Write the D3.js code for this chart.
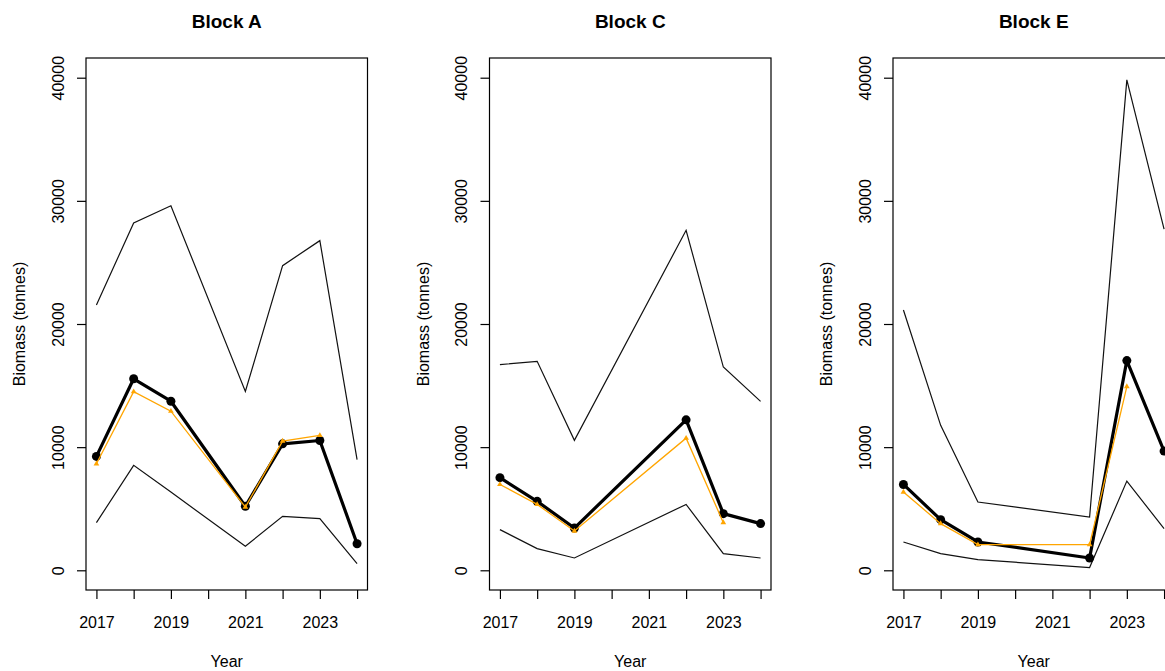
<!DOCTYPE html>
<html>
<head>
<meta charset="utf-8">
<script src="https://cdn.jsdelivr.net/npm/d3@7"></script>
<style>
  body { margin: 0; background: #fff; }
  text { font-family: "Liberation Sans", Arial, sans-serif; fill: #000; }
</style>
</head>
<body>
<script>
const blocks = ['Block A', 'Block C', 'Block E'];
const tickYears = [2017, 2018, 2019, 2020, 2021, 2022, 2023, 2024];
const yTicks = [0, 10000, 20000, 30000, 40000];

const yearsA = [2017, 2018, 2019, 2021, 2022, 2023, 2024];
const upperA = [21550, 28200, 29600, 14520, 24740, 26770, 8980];
const meanA = [9250, 15550, 13730, 5200, 10270, 10540, 2160];
const orangeA = [8650, 14500, 12920, 5130, 10490, 10950, null];
const lowerA = [3870, 8520, 6350, 1950, 4380, 4190, 540];

const yearsC = [2017, 2018, 2019, 2022, 2023, 2024];
const upperC = [16700, 16970, 10555, 27610, 16505, 13720];
const meanC = [7520, 5600, 3430, 12220, 4600, 3790];
const orangeC = [6970, 5350, 3190, 10730, 3870, null];
const lowerC = [3300, 1760, 1000, 5350, 1350, 1000];

const yearsE = [2017, 2018, 2019, 2022, 2023, 2024];
const upperE = [21140, 11770, 5545, 4330, 39820, 27700];
const meanE = [6970, 4110, 2300, 1000, 17030, 9680];
const orangeE = [6350, 3790, 2080, 2080, 14920, null];
const lowerE = [2300, 1350, 870, 220, 7240, 3380];

const panels = [
	{ years: yearsA, upper: upperA, mean: meanA, orange: orangeA, lower: lowerA },
	{ years: yearsC, upper: upperC, mean: meanC, orange: orangeC, lower: lowerC },
	{ years: yearsE, upper: upperE, mean: meanE, orange: orangeE, lower: lowerE }
];

const W = 1165, H = 671,
	boxLeft = 86, boxTop = 58,
	boxW = 281.5, boxH = 532,
	step = 403.5;

let svg = d3.select('body').append('svg')
	.attr('width', W)
	.attr('height', H);

let x = d3.scaleLinear().domain([2017 - 0.28, 2024 + 0.28]).range([0, boxW]);
let y = d3.scaleLinear().domain([-1600, 41600]).range([boxH, 0]);

panels.forEach((p, i) => {
	let g = svg.append('g')
		.attr('transform', 'translate(' + (boxLeft + i * step) + ',' + boxTop + ')');

	let pts = (vals) => p.years.map((yr, k) => ({ yr: yr, v: vals[k] }));
	let line = d3.line()
		.defined(d => d.v != null)
		.x(d => x(d.yr))
		.y(d => y(d.v));

	// box
	g.append('rect')
		.attr('x', 0).attr('y', 0)
		.attr('width', boxW).attr('height', boxH)
		.attr('fill', 'none')
		.attr('stroke', '#000')
		.attr('stroke-width', 1.2);

	// y axis
	let ya = g.append('g').call(d3.axisLeft(y).tickValues(yTicks).tickSize(9).tickFormat(d3.format('d')));
	ya.select('.domain').remove();
	ya.selectAll('line').attr('stroke', '#000').attr('stroke-width', 1.2);
	ya.selectAll('text')
		.attr('x', 0).attr('y', -22.5).attr('dy', 0)
		.attr('text-anchor', 'middle')
		.attr('transform', 'rotate(-90)')
		.style('font-size', '16px')
		.style('font-family', '"Liberation Sans", Arial, sans-serif')
		.attr('fill', '#000');

	// x axis
	let xa = g.append('g')
		.attr('transform', 'translate(0,' + boxH + ')')
		.call(d3.axisBottom(x).tickValues(tickYears).tickSize(9)
			.tickFormat(d => d % 2 === 1 ? String(d) : ''));
	xa.select('.domain').remove();
	xa.selectAll('line').attr('stroke', '#000').attr('stroke-width', 1.2);
	xa.selectAll('text')
		.attr('y', 38).attr('dy', 0)
		.style('font-size', '16px')
		.style('font-family', '"Liberation Sans", Arial, sans-serif')
		.attr('fill', '#000');

	// titles
	g.append('text')
		.attr('x', boxW / 2).attr('y', 28 - boxTop)
		.attr('text-anchor', 'middle')
		.style('font-size', '19px')
		.style('font-weight', 'bold')
		.text(blocks[i]);

	g.append('text')
		.attr('x', boxW / 2).attr('y', 667 - boxTop)
		.attr('text-anchor', 'middle')
		.style('font-size', '16px')
		.text('Year');

	g.append('text')
		.attr('transform', 'translate(' + (25 - boxLeft) + ',' + (boxH / 2) + ') rotate(-90)')
		.attr('text-anchor', 'middle')
		.style('font-size', '16px')
		.text('Biomass (tonnes)');

	// confidence lines
	[p.upper, p.lower].forEach(vals => {
		g.append('path')
			.datum(pts(vals))
			.attr('d', line)
			.attr('fill', 'none')
			.attr('stroke', '#111')
			.attr('stroke-width', 1.2);
	});

	// mean line with points
	g.append('path')
		.datum(pts(p.mean))
		.attr('d', line)
		.attr('fill', 'none')
		.attr('stroke', '#000')
		.attr('stroke-width', 3.2)
		.attr('stroke-linejoin', 'round');

	g.selectAll('circle.mean')
		.data(pts(p.mean))
		.enter().append('circle')
		.attr('class', 'mean')
		.attr('cx', d => x(d.yr))
		.attr('cy', d => y(d.v))
		.attr('r', 4.5)
		.attr('fill', '#000');

	// orange series
	g.append('path')
		.datum(pts(p.orange))
		.attr('d', line)
		.attr('fill', 'none')
		.attr('stroke', 'orange')
		.attr('stroke-width', 1.3);

	g.selectAll('path.tri')
		.data(pts(p.orange).filter(d => d.v != null))
		.enter().append('path')
		.attr('class', 'tri')
		.attr('d', d3.symbol(d3.symbolTriangle).size(14))
		.attr('transform', d => 'translate(' + x(d.yr) + ',' + y(d.v) + ')')
		.attr('fill', 'orange');
});
</script>
</body>
</html>
